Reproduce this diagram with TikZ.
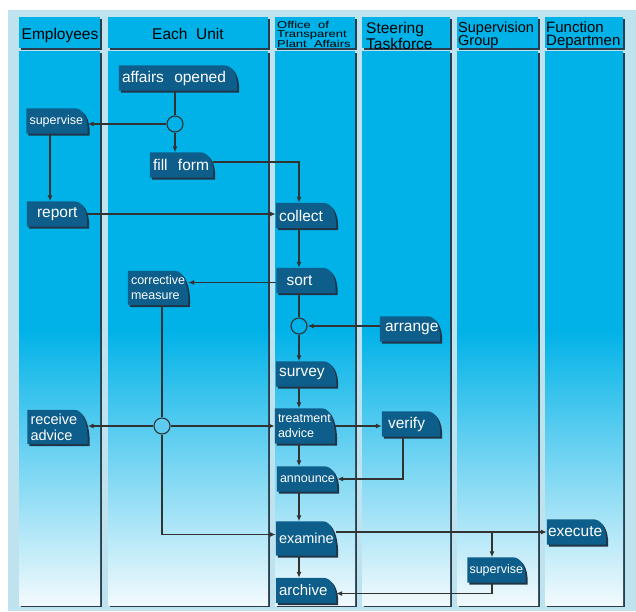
\documentclass[tikz,border=0pt]{standalone}
\usepackage{fontspec}
\setmainfont{Liberation Sans}
\newfontfamily\widefont[FakeStretch=1.3]{Liberation Sans}
\usetikzlibrary{arrows.meta, positioning}
\definecolor{lanecyan}{RGB}{0,178,232}
\definecolor{lanewhite}{RGB}{242,250,253}
\definecolor{laneshade}{RGB}{40,62,78}
\definecolor{frameblue}{RGB}{190,226,238}
\definecolor{cardblue}{RGB}{14,94,140}
\definecolor{cardshade}{RGB}{32,52,72}
\definecolor{linegray}{RGB}{50,50,50}
\pgfdeclarelayer{lanes}
\pgfdeclarelayer{cards}
\pgfsetlayers{lanes,cards,main}
\newcommand\cardpath[1]{(#1.south west) -- (#1.north west) -- ([xshift=-13pt]#1.north east) .. controls ([xshift=-5pt]#1.north east) and ([yshift=4pt]#1.east) .. ([yshift=3pt]#1.south east) -- (#1.south east) -- cycle}
\tikzset{%
    task/.style = {text=white, inner xsep=3pt, inner ysep=2pt, text width=54pt,
        align=left, minimum height=25pt, font=\fontsize{15.5}{17}\selectfont},
    small/.style = {font=\fontsize{12.5}{15}\selectfont},
    junction/.style = {circle, draw=linegray, line width=1.1pt, fill=lanecyan,
        minimum size=16pt, inner sep=0pt},
    link/.style = {draw=linegray, line width=1.2pt},
    flow/.style = {link, -{Latex[length=6pt,width=5pt]}},
    lanehead/.style = {font=\fontsize{15.5}{14}\selectfont, align=left, inner sep=0pt},
    card/.style = {fill=cardblue},
    cardshadow/.style = {fill=cardshade, transform canvas={shift={(2pt,-2pt)}}}
}
\begin{document}
\begin{tikzpicture}[x=1pt, y=-1pt]
    \useasboundingbox (0,0) rectangle (636,611);
    % lanes
    \begin{pgfonlayer}{lanes}
        \fill[frameblue] (8,10) rectangle (636,611);
        \foreach \l/\r in {19/102, 108/270, 275/357, 362/452, 457/540, 545/625} {
            \fill[laneshade] (\l+2,19) rectangle (\r,50);
            \fill[lanecyan] (\l,17) rectangle (\r-2,48);
            \fill[laneshade] (\l+2,53) rectangle (\r,607);
            \fill[lanecyan] (\l,51) rectangle (\r-2,330);
            \shade[top color=lanecyan, bottom color=lanewhite] (\l,329.5) rectangle (\r-2,605);
        }
    \end{pgfonlayer}
    \node[lanehead] (hEmp) at (60,35) {Employees};
    \node[lanehead] (hUnit) at (188,34) {Each\ \ Unit};
    \node[lanehead, anchor=west, font=\widefont\fontsize{10}{9.5}\selectfont] (hOffice) at (277,34) {Office\ \ of\\Transparent\\Plant\ \ Affairs};
    \node[lanehead, anchor=west] (hSteer) at (366,36) {Steering\\Taskforce};
    \node[lanehead, anchor=west, font=\fontsize{14.5}{13.5}\selectfont] (hSup) at (458,35) {Supervision\\Group};
    \node[lanehead, anchor=west, font=\fontsize{15}{13.5}\selectfont] (hFunc) at (546,35) {Function\\Departmen};

    \node[task, text width=112pt] (opened) at (178,78) {affairs\ \ opened};
    \node[junction] (j1) at (175,124) {};
    \node[task, small, text width=55pt] (supEmp) at (57,121) {supervise};
    \node[task, text width=57pt] (form) at (181.5,165) {fill\ \ form};
    \node[task, inner xsep=10pt, text width=40pt] (report) at (57,214) {report};
    \node[task] (collect) at (306,215.5) {collect};
    \node[task, inner xsep=10pt, text width=39pt] (sort) at (306,280.5) {sort};
    \node[task, small, minimum height=34pt] (measure) at (158,288) {corrective\\measure};
    \node[junction] (j2) at (299,326) {};
    \node[task, inner xsep=5pt, text width=50pt] (arrange) at (410,329) {arrange};
    \node[task] (survey) at (306,374) {survey};
    \node[junction, fill=lanecyan!62!lanewhite] (j3) at (162,426) {};
    \node[task, font=\fontsize{14.5}{16}\selectfont, minimum height=34pt] (receive) at (57.5,427) {receive\\advice};
    \node[task, small, minimum height=35pt] (treat) at (305,426) {treatment\\advice};
    \node[task, inner xsep=6pt, text width=46pt] (verify) at (411,424) {verify};
    \node[task, small] (announce) at (307,479) {announce};
    \node[task, font=\fontsize{14.5}{16}\selectfont, minimum height=34pt] (examine) at (306,538.5) {examine};
    \node[task, inner xsep=1pt, text width=57pt] (execute) at (576.5,532) {execute};
    \node[task, small, inner xsep=2pt] (supGroup) at (496.5,570) {supervise};
    \node[task, font=\fontsize{15}{17}\selectfont] (archive) at (306,590.5) {archive};

    % cards under the texts
    \begin{pgfonlayer}{cards}
        \foreach \n in {opened,supEmp,form,report,collect,sort,measure,arrange,survey,
            receive,treat,verify,announce,examine,execute,supGroup,archive} {
            \fill[cardshadow] \cardpath{\n};
            \fill[card] \cardpath{\n};
        }
    \end{pgfonlayer}

    \draw[link] (opened.south -| j1) -- (j1);
    \draw[flow] (j1) -- (j1 -| supEmp.east);
    \draw[flow] (j1) -- (form.north -| j1);
    \draw[flow] ([yshift=3pt]form.east) -| (collect.north -| j2);
    \draw[flow] ([xshift=-7pt]supEmp.south) -- ([xshift=-7pt]report.north);
    \draw[flow] (report.east) -- (report.east -| collect.west);
    \draw[flow] (collect.south -| j2) -- (sort.north -| j2);
    \draw[flow] ([yshift=-2pt]sort.west) -- ([yshift=-2pt]sort.west -| measure.east);
    \draw[link] (sort.south -| j2) -- (j2);
    \draw[flow] (arrange.west |- j2) -- (j2);
    \draw[flow] (j2) -- (survey.north -| j2);
    \draw[link] (measure.south -| j3) -- (j3);
    \draw[flow] (j3) |- ([yshift=4pt]examine.west);
    \draw[flow] (j3) -- (j3 -| receive.east);
    \draw[flow] (j3) -- (j3 -| treat.west);
    \draw[flow] (survey.south -| j2) -- (treat.north -| j2);
    \draw[flow] (treat.east) -- (treat.east -| verify.west);
    \draw[flow] ([xshift=-8pt]verify.south) |- (announce.east);
    \draw[flow] (treat.south -| j2) -- (announce.north -| j2);
    \draw[flow] (announce.south -| j2) -- (examine.north -| j2);
    \draw[flow] (examine.east |- execute.west) -- (execute.west);
    \draw[flow] ([xshift=-4.5pt]supGroup.north |- execute.west) -- ([xshift=-4.5pt]supGroup.north);
    \draw[flow] (examine.south -| j2) -- (archive.north -| j2);
    \draw[flow] ([xshift=-4.5pt]supGroup.south) |- ([yshift=-3pt]archive.east);
\end{tikzpicture}
\end{document}
